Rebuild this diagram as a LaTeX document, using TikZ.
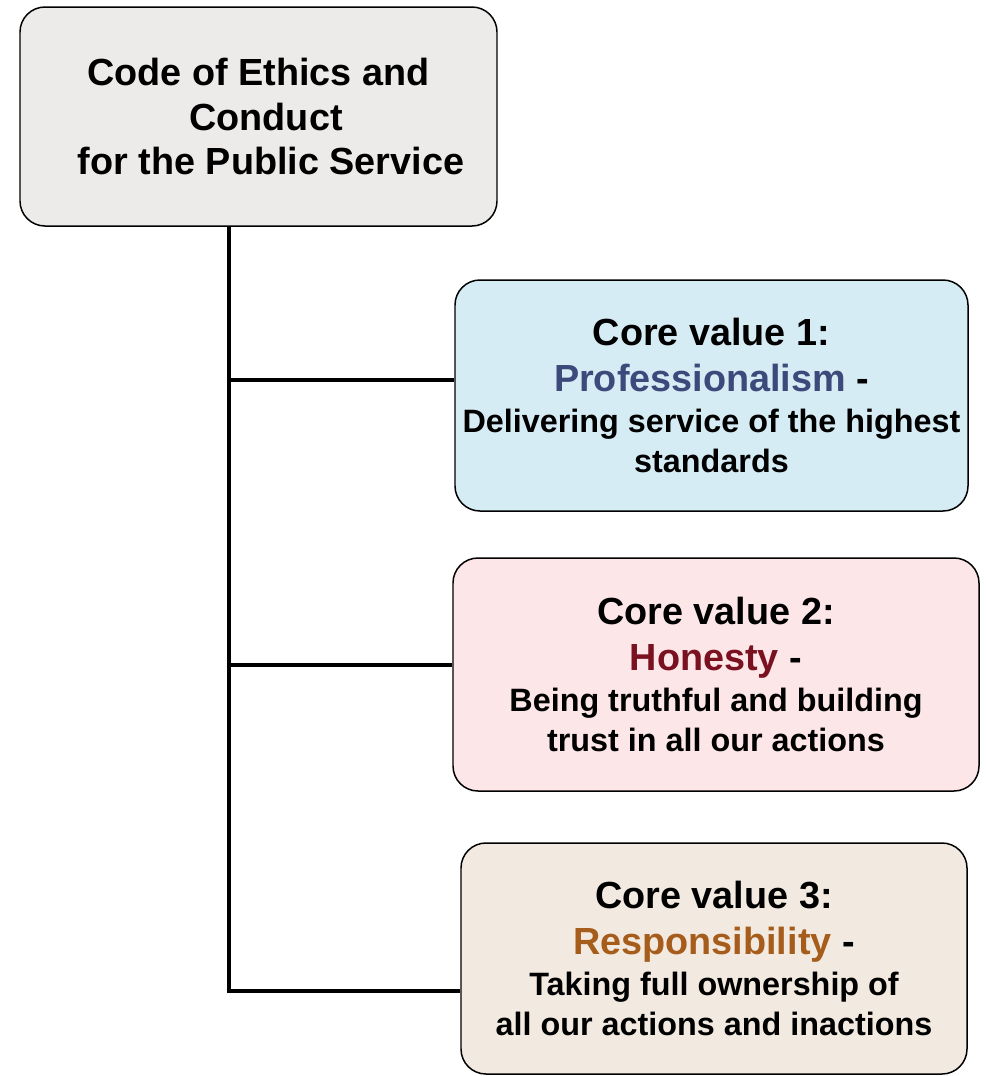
\documentclass[tikz,border=0pt]{standalone}
\usepackage{xcolor}
\usepackage{fontspec}
\setmainfont{Liberation Sans}
\usepackage{tikz}

\definecolor{rootfill}{HTML}{EDEBE9}
\definecolor{bluefill}{HTML}{D6ECF4}
\definecolor{pinkfill}{HTML}{FDE6E7}
\definecolor{sandfill}{HTML}{F2EAE1}
\definecolor{profcol}{HTML}{3B4A7A}
\definecolor{honcol}{HTML}{7A1120}
\definecolor{respcol}{HTML}{A65D1B}

\newcommand{\hdfont}{\fontsize{21.5}{26}\selectfont}
\newcommand{\txfont}{\fontsize{18.4}{22.8}\selectfont}

\begin{document}
\begin{tikzpicture}[
    box/.style={draw,rounded corners=0.5cm,line width=0.85pt,align=center,inner sep=1pt,font=\bfseries\txfont},
    link/.style={line width=2.8pt,line join=miter}]
  \useasboundingbox (0,0) rectangle (19.72,-21.52);
  \node[box,fill=rootfill,minimum width=9.54cm,minimum height=4.38cm,font=\bfseries\fontsize{21.5}{25.6}\selectfont] (root) at (5.17,-2.33)
    {Code of Ethics and\\\hspace{0.3cm}Conduct\\\hspace{0.5cm}for the Public Service};
  \node[box,fill=bluefill,minimum width=10.26cm,minimum height=4.62cm] (c1) at (14.23,-7.91)
    {\hdfont Core value 1:\\[3pt]\hdfont{\color{profcol}Professionalism} -\\[0.5pt]Delivering service of the highest\\standards};
  \node[box,fill=pinkfill,minimum width=10.52cm,minimum height=4.66cm] (c2) at (14.32,-13.49)
    {\hdfont Core value 2:\\[3pt]\hdfont{\color{honcol}Honesty} -\\[0.5pt]Being truthful and building\\trust in all our actions};
  \node[box,fill=sandfill,minimum width=10.12cm,minimum height=4.62cm] (c3) at (14.28,-19.17)
    {\hdfont Core value 3:\\[3pt]\hdfont{\color{respcol}Responsibility} -\\[0.5pt]Taking full ownership of\\all our actions and inactions};
  % branch points on the trunk
  \coordinate (j1) at (4.58,-7.60);
  \coordinate (j2) at (4.58,-13.30);
  \coordinate (j3) at (4.58,-19.82);
  \draw[link] (j3 |- root.south) -- (j3) -- (j3 -| c3.west);
  \draw[link] (j1) -- (j1 -| c1.west);
  \draw[link] (j2) -- (j2 -| c2.west);
\end{tikzpicture}
\end{document}
